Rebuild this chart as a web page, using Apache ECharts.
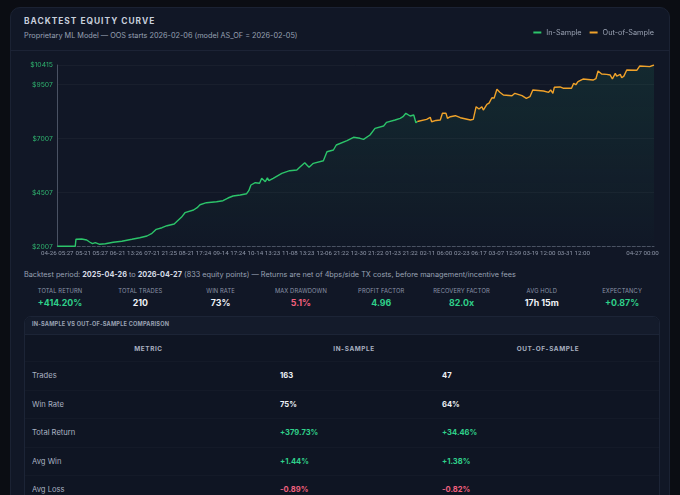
<!DOCTYPE html>
<html>
<head>
<meta charset="utf-8">
<script src="https://cdn.jsdelivr.net/npm/echarts@6/dist/echarts.min.js"></script>
<style>
  html,body{margin:0;padding:0;width:680px;height:495px;overflow:hidden;background:#0b0d13;font-family:Inter,"Noto Sans",sans-serif;}
  #card{position:absolute;left:10px;top:7px;width:660px;height:520px;background:#111726;border:1px solid #1b2233;border-radius:10px;box-sizing:border-box;}
  #hdrline{position:absolute;left:10px;top:50px;width:660px;height:1px;background:#1c2335;}
  #title{position:absolute;left:24px;top:16px;font-size:8.4px;font-weight:700;letter-spacing:1px;color:#c8cfdc;}
  #subtitle{position:absolute;left:24px;top:31px;font-size:7.3px;color:#98a1b3;}
  #chart{position:absolute;left:0;top:0;width:680px;height:270px;}
  #period{position:absolute;left:24px;top:270px;font-size:7.3px;color:#98a1b3;white-space:nowrap;}
  #period b{color:#d6dbe5;font-weight:700;}
  .stat{position:absolute;width:80px;text-align:center;}
  .stat .l{font-size:5.8px;color:#8b93a6;letter-spacing:0.1px;height:8px;line-height:8px;}
  .stat .v{font-size:8.8px;font-weight:700;margin-top:2px;line-height:11px;}
  .g{color:#2fd08a;} .w{color:#eef1f6;} .r{color:#f0607e;}
  #tcard{position:absolute;left:24px;top:316px;width:636px;height:200px;background:#0f1523;border:1px solid #1c2436;border-radius:7px;box-sizing:border-box;overflow:hidden;}
  #thead{position:absolute;left:0;top:0;width:100%;height:17px;background:#141b2b;border-bottom:1px solid #1c2436;}
  #thead span{position:absolute;left:7px;top:4px;font-size:5.6px;font-weight:700;color:#9aa2b3;letter-spacing:0.2px;}
  .ch{position:absolute;top:28px;font-size:6.4px;font-weight:700;color:#a9b1c1;letter-spacing:0.6px;text-align:center;}
  .row{position:absolute;left:0;width:100%;height:28.5px;border-top:1px solid rgba(255,255,255,0.025);}
  .row .m{position:absolute;left:7px;top:9px;font-size:7.6px;color:#a9b1c1;}
  .row .a{position:absolute;left:255px;top:9px;font-size:7.6px;font-weight:700;}
  .row .b{position:absolute;left:417px;top:9px;font-size:7.6px;font-weight:700;}
</style>
</head>
<body>
<div id="card"></div>
<div id="hdrline"></div>
<div id="title">BACKTEST EQUITY CURVE</div>
<div id="subtitle">Proprietary ML Model — OOS starts 2026-02-06 (model AS_OF = 2026-02-05)</div>
<div id="chart"></div>
<div id="period">Backtest period: <b>2025-04-26</b> to <b>2026-04-27</b> (833 equity points) — Returns are net of 4bps/side TX costs, before management/incentive fees</div>
<div id="stats"></div>
<div id="tcard">
  <div id="thead"><span>IN-SAMPLE VS OUT-OF-SAMPLE COMPARISON</span></div>
  <div class="ch" style="left:0;width:247px;">METRIC</div>
  <div class="ch" style="left:247px;width:164px;">IN-SAMPLE</div>
  <div class="ch" style="left:411px;width:224px;">OUT-OF-SAMPLE</div>
  <div id="rows"></div>
</div>
<script>
// ---- Tick labels (category positions every 48 equity points) ----
const tickStep = 48;
const tickLabels = ['04-26 05:27','05-21 05:27','06-21 13:26','07-21 21:25','08-21 17:24','09-14 17:24','10-14 13:23','11-08 13:23','12-06 21:22','12-30 21:22','01-23 21:22','02-11 06:00','02-23 06:17','03-07 12:09','03-19 12:00','03-31 12:00','','04-27 00:00'];
const lastIndex = 832;
const yTicks = [2007, 4507, 7007, 9507, 10415];

// ---- Equity series: [point index, equity $] ----
const inSample = [
  [0,2025],[25,2030],[26,2349],[34,2363],[41,2317],[45,2224],[49,2146],[53,2192],[59,2118],[67,2146],
  [78,2211],[90,2257],[104,2349],[115,2423],[125,2502],[132,2627],[138,2812],[146,2886],[153,2979],
  [163,3057],[167,3182],[173,3367],[178,3580],[190,3705],[195,3811],[199,3950],[208,4043],[222,4089],
  [231,4135],[238,4260],[245,4353],[255,4399],[264,4459],[267,4598],[270,4862],[276,4968],[282,4940],
  [285,5172],[290,5014],[293,5190],[295,5061],[301,5172],[313,5403],[324,5524],[334,5556],[338,5680],
  [345,5894],[351,5680],[357,5866],[371,5986],[376,6403],[385,6481],[389,6713],[404,6912],[413,7069],
  [422,7023],[427,6976],[436,7175],[443,7485],[455,7592],[459,7763],[471,7869],[478,7948],[482,8022],
  [486,8179],[492,8054],[497,8101],[500,7745],[502,7800]
];
const outOfSample = [
  [502,7800],[503,7838],[515,7902],[520,7994],[522,7791],[528,7850],[534,7869],[537,8179],[542,8179],
  [544,7948],[548,8022],[555,8069],[562,7976],[576,7869],[580,7900],[584,8485],[588,8378],[592,8485],
  [594,8332],[599,8596],[602,8650],[606,8901],[609,8880],[613,9290],[617,9151],[622,9026],[634,8994],
  [638,9105],[648,8994],[654,8873],[659,8950],[663,9258],[678,9211],[685,9151],[688,9260],[691,9105],
  [693,9383],[701,9400],[706,9336],[717,9336],[720,9567],[723,9500],[726,9642],[733,9766],[747,9720],
  [751,9780],[754,10136],[759,9998],[766,9980],[771,9950],[774,9766],[778,10029],[780,9900],[785,9980],
  [787,9827],[790,9900],[794,10183],[808,10170],[810,10261],[812,10368],[826,10340],[832,10415]
];

// ---- Summary stats ----
const statLabels = ['TOTAL RETURN','TOTAL TRADES','WIN RATE','MAX DRAWDOWN','PROFIT FACTOR','RECOVERY FACTOR','AVG HOLD','EXPECTANCY'];
const statValues = ['+414.20%','210','73%','5.1%','4.96','82.0x','17h 15m','+0.87%'];
const statTone = ['g','w','w','r','g','g','w','g'];

// ---- Comparison table ----
const metrics = ['Trades','Win Rate','Total Return','Avg Win','Avg Loss'];
const isValues = ['163','75%','+379.73%','+1.44%','-0.89%'];
const oosValues = ['47','64%','+34.46%','+1.38%','-0.82%'];
const rowTone = ['w','w','g','g','r'];

// build stats
const statsEl = document.getElementById('stats');
statLabels.forEach((l,i)=>{
  const d=document.createElement('div');
  d.className='stat';
  d.style.left=(20+i*80.3)+'px';
  d.style.top='287px';
  d.innerHTML='<div class="l">'+l+'</div><div class="v '+statTone[i]+'">'+statValues[i]+'</div>';
  statsEl.appendChild(d);
});
// build rows
const rowsEl=document.getElementById('rows');
metrics.forEach((m,i)=>{
  const d=document.createElement('div');
  d.className='row';
  d.style.top=(44+i*28.6)+'px';
  d.innerHTML='<span class="m">'+m+'</span><span class="a '+rowTone[i]+'">'+isValues[i]+'</span><span class="b '+rowTone[i]+'">'+oosValues[i]+'</span>';
  rowsEl.appendChild(d);
});

const chart = echarts.init(document.getElementById('chart'), null, {renderer:'canvas'});
const fullCurve = inSample.concat(outOfSample.slice(1));
chart.setOption({
  animation:false,
  backgroundColor:'transparent',
  textStyle:{fontFamily:'Inter'},
  legend:{
    right:21, top:24, icon:'rect', itemWidth:8, itemHeight:2, itemGap:8,
    textStyle:{color:'#9aa2b3', fontSize:7.3, fontFamily:'Inter'},
    data:['In-Sample','Out-of-Sample']
  },
  grid:{left:57.3, right:26, top:65, height:181.7, containLabel:false},
  xAxis:{
    type:'value', min:0, max:lastIndex, interval:tickStep,
    axisLine:{show:true, lineStyle:{color:'#4a5263', type:[3,2], width:1}},
    axisTick:{show:false},
    splitLine:{show:false},
    axisLabel:{
      margin:3.5, fontSize:6.2, color:'#8d95a7', fontFamily:'Roboto',
      showMinLabel:true, showMaxLabel:true, hideOverlap:false,
      formatter:v=>{const k=Math.round(v/tickStep); return (v%tickStep===0 && k<tickLabels.length)?tickLabels[k]:'';}
    }
  },
  yAxis:{
    type:'value', min:yTicks[0], max:yTicks[yTicks.length-1], interval:2500,
    axisLine:{show:true, lineStyle:{color:'#4a5263', width:1}},
    axisTick:{show:false},
    splitLine:{show:true, lineStyle:{color:'rgba(255,255,255,0.035)'}},
    axisLabel:{margin:4.5, fontSize:6.8, color:'#2fb56f', fontFamily:'Inter', formatter:v=>'$'+v}
  },
  series:[
    {name:'area', type:'line', data:fullCurve, showSymbol:false, silent:true,
     lineStyle:{width:0}, z:1,
     areaStyle:{color:{type:'linear', x:0, y:65, x2:0, y2:247, global:true,
       colorStops:[{offset:0,color:'rgba(40,190,130,0.16)'},{offset:1,color:'rgba(40,190,130,0.01)'}]}}},
    {name:'In-Sample', type:'line', data:inSample, showSymbol:false, color:'#2cc46a',
     lineStyle:{width:1.4, color:'#2cc46a'}, z:3},
    {name:'Out-of-Sample', type:'line', data:outOfSample, showSymbol:false, color:'#f0a22a',
     lineStyle:{width:1.4, color:'#f0a22a'}, z:3}
  ]
});
</script>
</body>
</html>
